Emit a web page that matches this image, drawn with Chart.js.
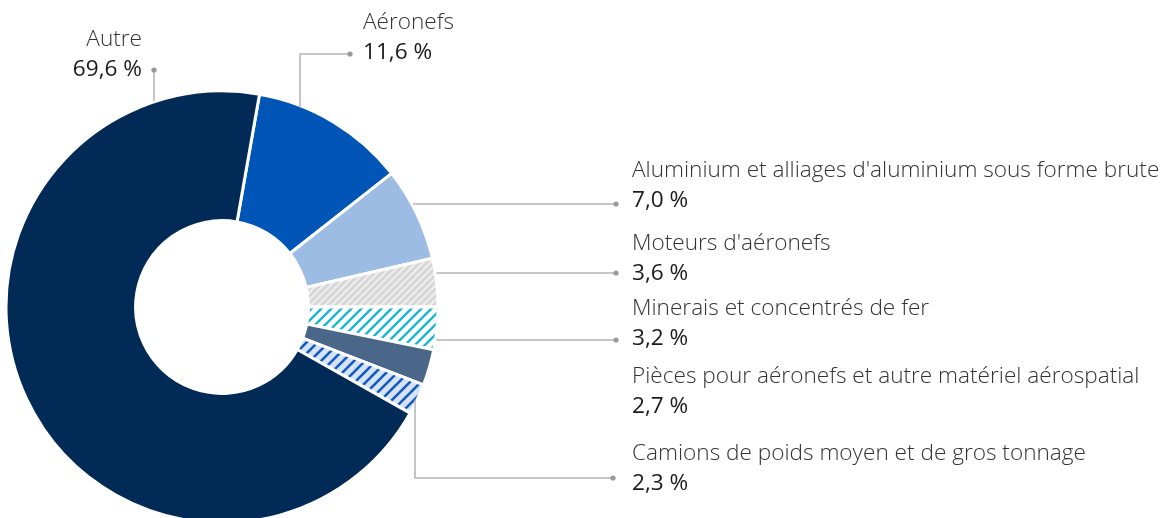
<!DOCTYPE html>
<html>
<head>
<meta charset="utf-8">
<script src="https://cdn.jsdelivr.net/npm/chart.js@4.4.1/dist/chart.umd.min.js"></script>
<style>
  html, body { margin: 0; padding: 0; background: #fff; overflow: hidden; }
  #wrap { width: 1164px; height: 518px; }
</style>
</head>
<body>
<div id="wrap"><canvas id="chart" width="1164" height="518"></canvas></div>
<script>
// Données
var categories = [
    'Aéronefs',
    "Aluminium et alliages d'aluminium sous forme brute",
    "Moteurs d'aéronefs",
    'Minerais et concentrés de fer',
    'Pièces pour aéronefs et autre matériel aérospatial',
    'Camions de poids moyen et de gros tonnage',
    'Autre'
];
var shares = [11.6, 7.0, 3.6, 3.2, 2.7, 2.3, 69.6];

// Motifs hachurés
function hatch(bg, fg, size, lw) {
    var c = document.createElement('canvas');
    c.width = size; c.height = size;
    var x = c.getContext('2d');
    x.fillStyle = bg;
    x.fillRect(0, 0, size, size);
    x.strokeStyle = fg;
    x.lineWidth = lw;
    x.beginPath();
    x.moveTo(-size, size); x.lineTo(size, -size);
    x.moveTo(0, size * 2); x.lineTo(size * 2, 0);
    x.moveTo(0, size); x.lineTo(size, 0);
    x.stroke();
    return x.createPattern(c, 'repeat');
}

var colors = [
    '#0055b7',
    '#9cbce3',
    hatch('#d6d6d6', '#eeeeee', 7, 2.2),
    hatch('#ffffff', '#1ab6d3', 10, 2.4),
    '#4a6688',
    hatch('#d5e3f5', '#1459c2', 11, 2.6),
    '#022a56'
];

// Position des étiquettes (layout)
var labelPos = [
    {x: 363, y: 29, align: 'left', leader: 'elbowTop', dot: [350, 54], bend: 300},
    {x: 632, y: 177, align: 'left', leader: 'h', dot: [616, 204]},
    {x: 632, y: 250, align: 'left', leader: 'h', dot: [616, 273]},
    {x: 632, y: 315, align: 'left', leader: 'h', dot: [616, 340]},
    {x: 632, y: 383, align: 'left', leader: null},
    {x: 632, y: 460, align: 'left', leader: 'elbowBottom', dot: [613, 478], bend: 415},
    {x: 142, y: 46, align: 'right', leader: 'vTop', dot: [154, 70]}
];

function fmt(v) {
    return v.toFixed(1).replace('.', ',') + ' %';
}

var labelsPlugin = {
    id: 'labels',
    afterDatasetsDraw: function(chart) {
        var ctx = chart.ctx;
        var arc = chart.getDatasetMeta(0).data[0];
        var cx = arc.x, cy = arc.y, R = arc.outerRadius;
        ctx.save();
        ctx.strokeStyle = '#b3b3b3';
        ctx.lineWidth = 1.5;
        labelPos.forEach(function(p, i) {
            // traits de rappel
            if (p.leader) {
                var d = p.dot;
                ctx.beginPath();
                if (p.leader === 'h') {
                    var dx = Math.sqrt(R * R - (d[1] - cy) * (d[1] - cy));
                    ctx.moveTo(cx + dx + 1, d[1]);
                    ctx.lineTo(d[0], d[1]);
                } else if (p.leader === 'vTop') {
                    var dy = Math.sqrt(R * R - (d[0] - cx) * (d[0] - cx));
                    ctx.moveTo(d[0], cy - dy - 1);
                    ctx.lineTo(d[0], d[1]);
                } else if (p.leader === 'elbowTop') {
                    var dy2 = Math.sqrt(R * R - (p.bend - cx) * (p.bend - cx));
                    ctx.moveTo(p.bend, cy - dy2 + 2);
                    ctx.lineTo(p.bend, d[1]);
                    ctx.lineTo(d[0], d[1]);
                } else if (p.leader === 'elbowBottom') {
                    var dy3 = Math.sqrt(R * R - (p.bend - cx) * (p.bend - cx));
                    ctx.moveTo(p.bend, cy + dy3 - 4);
                    ctx.lineTo(p.bend, d[1]);
                    ctx.lineTo(d[0], d[1]);
                }
                ctx.stroke();
                ctx.fillStyle = '#999999';
                ctx.beginPath();
                ctx.arc(d[0], d[1], 2.6, 0, Math.PI * 2);
                ctx.fill();
            }
            // textes
            ctx.textAlign = p.align;
            ctx.textBaseline = 'alphabetic';
            ctx.fillStyle = '#333333';
            ctx.font = '300 22.6px "Open Sans"';
            ctx.fillText(categories[i], p.x, p.y);
            ctx.fillStyle = '#1a1a1a';
            ctx.font = '400 22.6px "Open Sans"';
            ctx.fillText(fmt(shares[i]), p.x, p.y + 30);
        });
        ctx.restore();
    }
};

var ctx = document.getElementById('chart').getContext('2d');
var chart = new Chart(ctx, {
    type: 'doughnut',
    data: {
        labels: categories,
        datasets: [{
            data: shares,
            backgroundColor: colors,
            borderColor: '#ffffff',
            borderWidth: 3,
            clip: false
        }]
    },
    options: {
        responsive: false,
        animation: false,
        events: [],
        rotation: 10,
        cutout: '40%',
        radius: 216,
        layout: {
            padding: {left: 0, right: 720, top: 96, bottom: 0}
        },
        plugins: {
            legend: {display: false},
            tooltip: {enabled: false}
        }
    },
    plugins: [labelsPlugin]
});
</script>
</body>
</html>
